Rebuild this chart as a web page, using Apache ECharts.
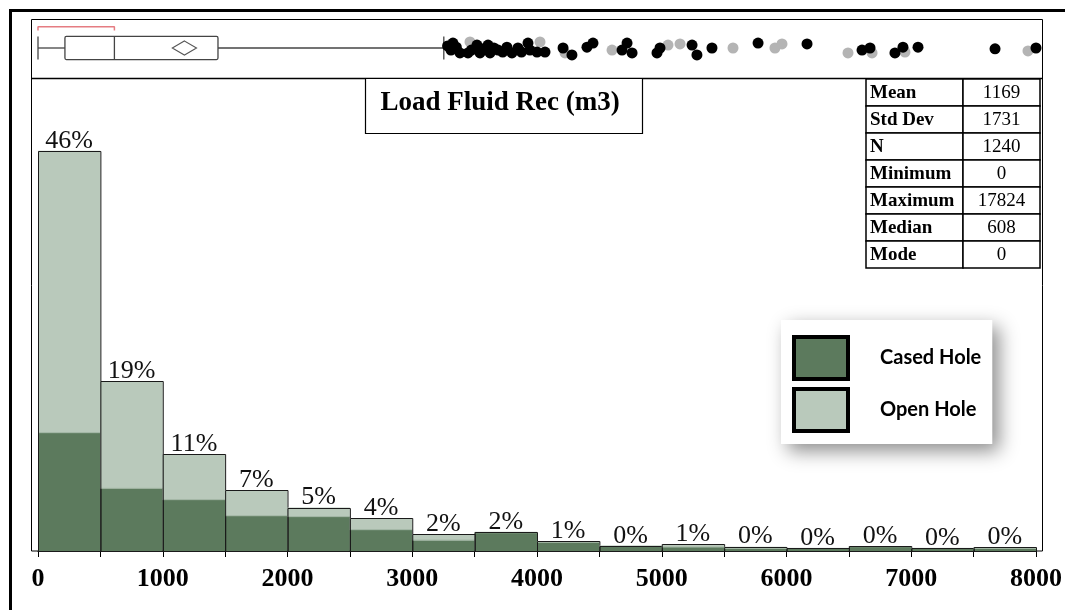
<!DOCTYPE html>
<html>
<head>
<meta charset="utf-8">
<script src="https://cdn.jsdelivr.net/npm/echarts@6/dist/echarts.min.js"></script>
<style>
html,body{margin:0;padding:0;background:#fff;}
#chart{width:1065px;height:610px;}
</style>
</head>
<body>
<div id="chart"></div>
<script>
// ---- data ----
const binStarts = [0,500,1000,1500,2000,2500,3000,3500,4000,4500,5000,5500,6000,6500,7000,7500];
const binWidth = 500;
const totalPct = [46.0,19.5,11.1,7.0,5.0,3.8,1.95,2.2,1.15,0.6,0.75,0.5,0.35,0.55,0.3,0.45];
const casedPct = [13.6,7.2,5.9,4.05,3.95,2.45,1.25,2.1,1.0,0.55,0.45,0.3,0.3,0.5,0.3,0.3];
const pctLabels = ['46%','19%','11%','7%','5%','4%','2%','2%','1%','0%','1%','0%','0%','0%','0%','0%'];
const xTicks = [0,1000,2000,3000,4000,5000,6000,7000,8000];

// box plot summary: [min, Q1, median, Q3, upper whisker]
const boxStats = [0, 215, 610, 1437, 3240];
const meanValue = 1169;
const bracketRange = [0, 610];

// outliers: [value, vertical jitter]
const outliersBlack = [
 [3270,0.07],[3297,-0.07],[3313,0.17],[3340,0.03],[3369,-0.17],[3433,-0.17],[3460,-0.07],[3505,0.10],
 [3529,-0.17],[3560,-0.03],[3593,0.10],[3609,-0.17],[3640,0.0],[3673,-0.07],[3710,-0.14],[3744,0.03],
 [3784,-0.17],[3832,0.0],[3860,-0.14],[3912,0.17],[3928,-0.07],[3984,-0.14],[4048,-0.14],[4192,0.0],
 [4263,-0.24],[4383,0.03],[4431,0.17],[4663,-0.07],[4703,0.17],[4743,-0.17],[4942,-0.17],[4966,0.0],
 [5222,0.10],[5261,-0.24],[5381,0.0],[5749,0.17],[6140,0.14],[6579,-0.07],[6643,0.0],[6842,-0.17],
 [6906,0.03],[7026,0.03],[7641,-0.03],[7968,0.0]
];
const outliersGray = [
 [3449,0.21],[4008,0.21],[4208,-0.17],[4583,-0.07],[5030,0.10],[5126,0.14],[5549,0.0],[5884,0.0],
 [5940,0.14],[6467,-0.17],[6659,-0.17],[6922,-0.14],[7904,-0.10]
];

const statLabels = ['Mean','Std Dev','N','Minimum','Maximum','Median','Mode'];
const statValues = ['1169','1731','1240','0','17824','608','0'];

const titleText = 'Load Fluid Rec (m3)';
const seriesNames = ['Cased Hole','Open Hole'];

// ---- style ----
const DARK = '#5c7a5d';
const LIGHT = '#b9c9bb';
const SERIF = "'Liberation Serif','Times New Roman',serif";

const histData = binStarts.map((s,i)=>[s, s+binWidth, casedPct[i], totalPct[i], i]);

const chart = echarts.init(document.getElementById('chart'));

// table graphics
const tableEls = [];
const tX0 = 866, tX1 = 963, tX2 = 1040, tY0 = 79, rowH = 27;
statLabels.forEach((lab,i)=>{
  const y = tY0 + i*rowH;
  tableEls.push({type:'rect', shape:{x:tX0, y:y, width:tX1-tX0, height:rowH}, style:{fill:'#fff', stroke:'#000', lineWidth:1.5}});
  tableEls.push({type:'rect', shape:{x:tX1, y:y, width:tX2-tX1, height:rowH}, style:{fill:'#fff', stroke:'#000', lineWidth:1.5}});
  tableEls.push({type:'text', x:tX0+4, y:y+rowH/2+1, style:{text:lab, fontFamily:SERIF, fontWeight:'bold', fontSize:19, fill:'#000', textVerticalAlign:'middle', textAlign:'left'}});
  tableEls.push({type:'text', x:(tX1+tX2)/2, y:y+rowH/2+1, style:{text:statValues[i], fontFamily:SERIF, fontSize:19, fill:'#000', textVerticalAlign:'middle', textAlign:'center'}});
});

const option = {
  animation:false,
  backgroundColor:'#fff',
  grid:[
    {left:38, right:25, top:116, height:435},
    {left:38, right:25, top:19, height:58}
  ],
  xAxis:[
    {type:'value', gridIndex:0, min:0, max:8000, interval:1000,
     axisLine:{show:true, lineStyle:{color:'#000', width:1}},
     axisTick:{show:true, length:6, lineStyle:{color:'#000'}},
     minorTick:{show:true, splitNumber:2, length:6, lineStyle:{color:'#000'}},
     splitLine:{show:false},
     axisLabel:{margin:15, fontFamily:SERIF, fontWeight:'bold', fontSize:26, color:'#000',
       customValues:xTicks, formatter:function(v){return String(v);}}
    },
    {type:'value', gridIndex:1, min:0, max:8000, show:false}
  ],
  yAxis:[
    {type:'value', gridIndex:0, min:0, max:50, show:false},
    {type:'value', gridIndex:1, min:-1, max:1, show:false}
  ],
  legend:{
    orient:'vertical', left:781, top:320,
    padding:[15,11,11,11], itemWidth:54, itemHeight:42, itemGap:6,
    backgroundColor:'#fff', borderWidth:0,
    shadowBlur:18, shadowColor:'rgba(0,0,0,0.45)', shadowOffsetX:7, shadowOffsetY:7,
    selectedMode:false,
    textStyle:{fontFamily:"Lato,'Open Sans',sans-serif", fontWeight:'bold', fontSize:20, color:'#000', padding:[0,0,0,27]},
    data:[
      {name:seriesNames[0], icon:'rect', itemStyle:{color:DARK, borderColor:'#000', borderWidth:4}},
      {name:seriesNames[1], icon:'rect', itemStyle:{color:LIGHT, borderColor:'#000', borderWidth:4}}
    ]
  },
  series:[
    {name:seriesNames[0], type:'custom', xAxisIndex:0, yAxisIndex:0, data:histData,
     itemStyle:{color:DARK},
     encode:{x:[0,1], y:[2]},
     renderItem:function(params, api){
       const p0 = api.coord([api.value(0), 0]);
       const p1 = api.coord([api.value(1), api.value(2)]);
       return {type:'rect', shape:{x:p0[0], y:p1[1], width:p1[0]-p0[0], height:p0[1]-p1[1]}, style:{fill:DARK}};
     }},
    {name:seriesNames[1], type:'custom', xAxisIndex:0, yAxisIndex:0, data:histData,
     itemStyle:{color:LIGHT},
     encode:{x:[0,1], y:[3]},
     renderItem:function(params, api){
       const pb = api.coord([api.value(0), api.value(2)]);
       const pt = api.coord([api.value(1), api.value(3)]);
       const p0 = api.coord([api.value(0), 0]);
       const idx = api.value(4);
       return {type:'group', children:[
         {type:'rect', shape:{x:pb[0], y:pt[1], width:pt[0]-pb[0], height:pb[1]-pt[1]}, style:{fill:LIGHT}},
         {type:'line', shape:{x1:pb[0], y1:pb[1], x2:pt[0], y2:pb[1]}, style:{stroke:'#9fb3a1', lineWidth:1}},
         {type:'rect', shape:{x:p0[0]+0.5, y:Math.round(pt[1])+0.5, width:pt[0]-p0[0], height:p0[1]-Math.round(pt[1])}, style:{fill:'none', stroke:'#1a1a1a', lineWidth:1}},
         {type:'text', x:(p0[0]+pt[0])/2, y:pt[1]+3, style:{text:pctLabels[idx], fontFamily:SERIF, fontSize:26, fill:'#111', textAlign:'center', textVerticalAlign:'bottom'}}
       ]};
     }},
    // box plot
    {name:'box', type:'custom', xAxisIndex:1, yAxisIndex:1, data:[boxStats], silent:true,
     renderItem:function(params, api){
       const h = 0.4;
       const c = api.coord([0,0])[1];
       const top = api.coord([0,h])[1], bot = api.coord([0,-h])[1];
       const xs = [0,1,2,3,4].map(k=>api.coord([api.value(k),0])[0]);
       const st = {stroke:'#444', lineWidth:1.3, fill:'none'};
       return {type:'group', children:[
         {type:'line', shape:{x1:xs[0], y1:c, x2:xs[1], y2:c}, style:st},
         {type:'line', shape:{x1:xs[3], y1:c, x2:xs[4], y2:c}, style:st},
         {type:'line', shape:{x1:xs[0], y1:top, x2:xs[0], y2:bot}, style:st},
         {type:'line', shape:{x1:xs[4], y1:top, x2:xs[4], y2:bot}, style:st},
         {type:'rect', shape:{x:xs[1], y:top, width:xs[3]-xs[1], height:bot-top, r:1.5}, style:st},
         {type:'line', shape:{x1:xs[2], y1:top, x2:xs[2], y2:bot}, style:st}
       ]};
     }},
    {name:'bracket', type:'line', xAxisIndex:1, yAxisIndex:1, symbol:'none', silent:true,
     lineStyle:{color:'#e57c82', width:1.5},
     data:[[bracketRange[0],0.6],[bracketRange[0],0.73],[bracketRange[1],0.73],[bracketRange[1],0.6]]},
    {name:'mean', type:'scatter', xAxisIndex:1, yAxisIndex:1, symbol:'diamond', symbolSize:[24,14], silent:true,
     itemStyle:{color:'#fff', borderColor:'#555', borderWidth:1.3, opacity:1},
     data:[[meanValue,0]]},
    {name:'outGray', type:'scatter', xAxisIndex:1, yAxisIndex:1, symbolSize:11, silent:true,
     itemStyle:{color:'#b4b4b4', opacity:1}, data:outliersGray},
    {name:'outBlack', type:'scatter', xAxisIndex:1, yAxisIndex:1, symbolSize:11, silent:true,
     itemStyle:{color:'#000', opacity:1}, data:outliersBlack}
  ],
  graphic:[
    // outer thick frame
    {type:'line', shape:{x1:9, y1:10.5, x2:1065, y2:10.5}, style:{stroke:'#000', lineWidth:3}},
    {type:'line', shape:{x1:10.5, y1:9, x2:10.5, y2:610}, style:{stroke:'#000', lineWidth:3}},
    // inner panel
    {type:'rect', shape:{x:31.5, y:19.5, width:1011, height:531.5}, style:{fill:'none', stroke:'#000', lineWidth:1}},
    {type:'line', shape:{x1:31, y1:78.5, x2:1042, y2:78.5}, style:{stroke:'#000', lineWidth:1.5}},
    // title box
    {type:'rect', shape:{x:365.5, y:78.5, width:277, height:55}, style:{fill:'#fff', stroke:'#000', lineWidth:1.2}},
    {type:'text', x:500, y:103, style:{text:titleText, fontFamily:SERIF, fontWeight:'bold', fontSize:27, fill:'#000', textAlign:'center', textVerticalAlign:'middle'}},
    ...tableEls
  ]
};
chart.setOption(option);
</script>
</body>
</html>
